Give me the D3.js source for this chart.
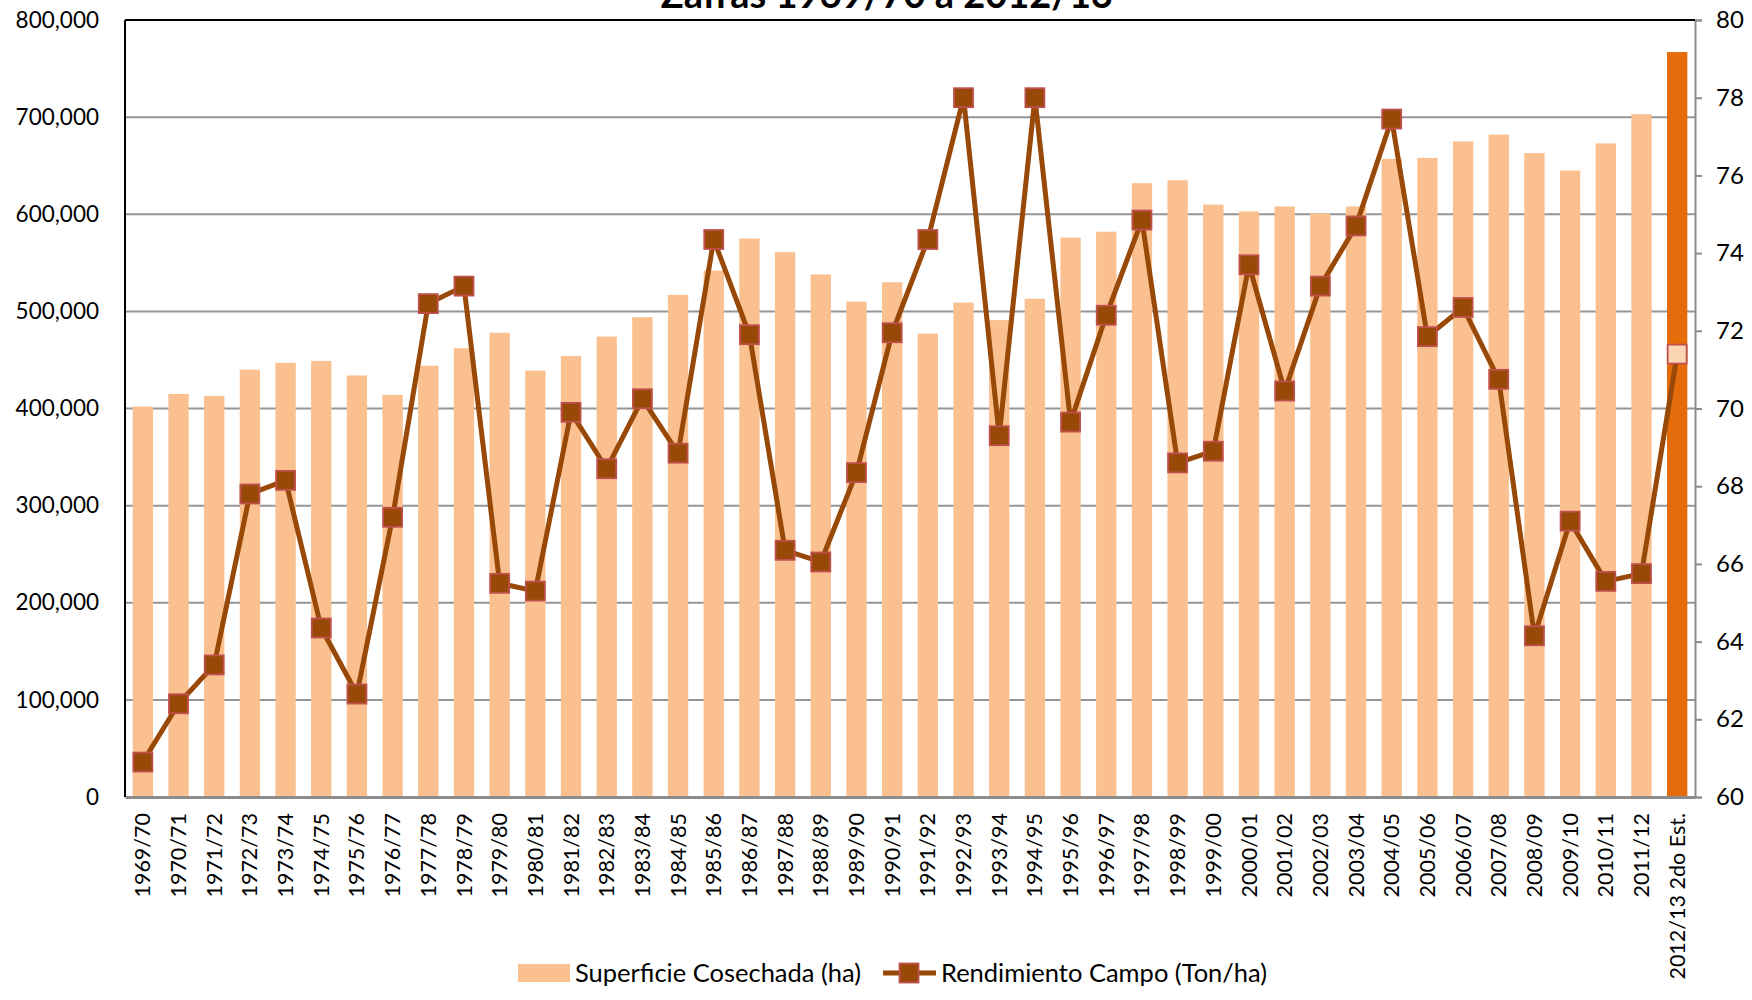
<!DOCTYPE html>
<html>
<head>
<meta charset="utf-8">
<script src="https://cdn.jsdelivr.net/npm/d3@7"></script>
<style>
  body { margin: 0; background: #fff; }
  svg text { font-family: Lato, "Open Sans", sans-serif; fill: #000; }
</style>
</head>
<body>
<div id="chart"></div>
<script>
var svgWidth = 1752;
var svgHeight = 1000;

var margin = { top: 20, right: 57, bottom: 203, left: 125 };
var width = svgWidth - margin.left - margin.right;
var height = svgHeight - margin.top - margin.bottom;

// Data
var zafras = ["1969/70", "1970/71", "1971/72", "1972/73", "1973/74", "1974/75", "1975/76", "1976/77",
    "1977/78", "1978/79", "1979/80", "1980/81", "1981/82", "1982/83", "1983/84", "1984/85", "1985/86",
    "1986/87", "1987/88", "1988/89", "1989/90", "1990/91", "1991/92", "1992/93", "1993/94", "1994/95",
    "1995/96", "1996/97", "1997/98", "1998/99", "1999/00", "2000/01", "2001/02", "2002/03", "2003/04",
    "2004/05", "2005/06", "2006/07", "2007/08", "2008/09", "2009/10", "2010/11", "2011/12", "2012/13 2do Est."];

var superficie = [402000, 415000, 413000, 440000, 447000, 449000, 434000, 414000,
    444000, 462000, 478000, 439000, 454000, 474000, 494000, 517000, 542000,
    575000, 561000, 538000, 510000, 530000, 477000, 509000, 491000, 513000,
    576000, 582000, 632000, 635000, 610000, 603000, 608000, 601000, 608000,
    657000, 658000, 675000, 682000, 663000, 645000, 673000, 703000, 767000];

var rendimiento = [60.9, 62.4, 63.4, 67.8, 68.15, 64.35, 62.65, 67.2,
    72.7, 73.15, 65.5, 65.3, 69.9, 68.45, 70.25, 68.85, 74.35,
    71.9, 66.35, 66.05, 68.35, 71.95, 74.35, 78.0, 69.3, 78.0,
    69.65, 72.4, 74.85, 68.6, 68.9, 73.7, 70.45, 73.15, 74.7,
    77.45, 71.85, 72.6, 70.75, 64.15, 67.1, 65.55, 65.75, 71.4];

var leftTicks = [0, 100000, 200000, 300000, 400000, 500000, 600000, 700000, 800000];
var rightTicks = [60, 62, 64, 66, 68, 70, 72, 74, 76, 78, 80];

var barColor = "#fac090";
var estColor = "#e46c0a";
var lineColor = "#984807";
var markerStroke = "#c0504d";

var svg = d3.select("#chart")
    .append("svg")
    .attr("width", svgWidth)
    .attr("height", svgHeight);

var chartGroup = svg.append("g")
    .attr("transform", `translate(${margin.left}, ${margin.top})`);

var xScale = d3.scaleBand()
    .domain(zafras)
    .range([0, width])
    .paddingInner(0.43)
    .paddingOuter(0.215);

var yLeft = d3.scaleLinear().domain([0, 800000]).range([height, 0]);
var yRight = d3.scaleLinear().domain([60, 80]).range([height, 0]);

// gridlines
chartGroup.append("g")
    .selectAll("line")
    .data(leftTicks.slice(1, -1))
    .enter()
    .append("line")
    .attr("x1", 0)
    .attr("x2", width)
    .attr("y1", d => yLeft(d))
    .attr("y2", d => yLeft(d))
    .attr("stroke", "#959595")
    .attr("stroke-width", 2);

// bars
chartGroup.append("g")
    .selectAll("rect")
    .data(zafras)
    .enter()
    .append("rect")
    .attr("x", d => xScale(d))
    .attr("width", xScale.bandwidth())
    .attr("y", (d, i) => yLeft(superficie[i]))
    .attr("height", (d, i) => height - yLeft(superficie[i]))
    .attr("fill", (d, i) => i === zafras.length - 1 ? estColor : barColor);

// line
var lineGen = d3.line()
    .x((d, i) => xScale(zafras[i]) + xScale.bandwidth() / 2)
    .y(d => yRight(d));

chartGroup.append("path")
    .datum(rendimiento)
    .attr("d", lineGen)
    .attr("fill", "none")
    .attr("stroke", lineColor)
    .attr("stroke-width", 5)
    .attr("stroke-linejoin", "round");

var ms = 19;
chartGroup.append("g")
    .selectAll("rect")
    .data(rendimiento)
    .enter()
    .append("rect")
    .attr("x", (d, i) => xScale(zafras[i]) + xScale.bandwidth() / 2 - ms / 2)
    .attr("y", d => yRight(d) - ms / 2)
    .attr("width", ms)
    .attr("height", ms)
    .attr("fill", (d, i) => i === rendimiento.length - 1 ? "#fcd5b5" : lineColor)
    .attr("stroke", markerStroke)
    .attr("stroke-width", 1.8);

// axes
var leftAxis = d3.axisLeft(yLeft)
    .tickValues(leftTicks)
    .tickSize(0)
    .tickPadding(26)
    .tickFormat(d3.format(","));

var gLeft = chartGroup.append("g").call(leftAxis);
gLeft.select(".domain").remove();
gLeft.selectAll("text").style("font-size", "22.5px");

var rightAxis = d3.axisRight(yRight)
    .tickValues(rightTicks)
    .tickSize(7)
    .tickPadding(14)
    .tickFormat(d3.format("d"));

var gRight = chartGroup.append("g")
    .attr("transform", `translate(${width}, 0)`)
    .call(rightAxis);
gRight.select(".domain").attr("stroke", "#8c8c8c").attr("stroke-width", 2);
gRight.selectAll(".tick line").attr("stroke", "#8c8c8c").attr("stroke-width", 2);
gRight.selectAll("text").style("font-size", "24px");

var bottomAxis = d3.axisBottom(xScale).tickSize(0).tickPadding(16);
var gBottom = chartGroup.append("g")
    .attr("transform", `translate(0, ${height})`)
    .call(bottomAxis);
gBottom.select(".domain").attr("stroke", "#8c8c8c").attr("stroke-width", 3);
gBottom.selectAll("text")
    .style("font-size", "21.5px")
    .style("text-anchor", "end")
    .attr("transform", "rotate(-90)")
    .attr("x", -16)
    .attr("y", 0)
    .attr("dy", "0.35em");

// left axis line and top border
chartGroup.append("line")
    .attr("x1", 0).attr("x2", 0)
    .attr("y1", 0).attr("y2", height)
    .attr("stroke", "#000").attr("stroke-width", 2);
chartGroup.append("line")
    .attr("x1", 0).attr("x2", width)
    .attr("y1", 0).attr("y2", 0)
    .attr("stroke", "#000").attr("stroke-width", 2);

// title (cut off at the top, as in the original)
svg.append("text")
    .attr("x", 887)
    .attr("y", 8)
    .attr("text-anchor", "middle")
    .style("font-size", "38px")
    .style("font-weight", "bold")
    .text("Zafras 1969/70 a 2012/13");

// legend
var legend = svg.append("g").attr("transform", "translate(0, 973)");
legend.append("rect")
    .attr("x", 518).attr("y", -9)
    .attr("width", 52).attr("height", 18)
    .attr("fill", barColor);
legend.append("text")
    .attr("x", 575).attr("y", 0).attr("dy", "0.35em")
    .style("font-size", "25.5px")
    .text("Superficie Cosechada (ha)");
legend.append("line")
    .attr("x1", 883).attr("x2", 936)
    .attr("y1", 0).attr("y2", 0)
    .attr("stroke", lineColor).attr("stroke-width", 5);
legend.append("rect")
    .attr("x", 909 - ms / 2).attr("y", -ms / 2)
    .attr("width", ms).attr("height", ms)
    .attr("fill", lineColor)
    .attr("stroke", markerStroke)
    .attr("stroke-width", 1.8);
legend.append("text")
    .attr("x", 941).attr("y", 0).attr("dy", "0.35em")
    .style("font-size", "25.5px")
    .text("Rendimiento Campo (Ton/ha)");
</script>
</body>
</html>
